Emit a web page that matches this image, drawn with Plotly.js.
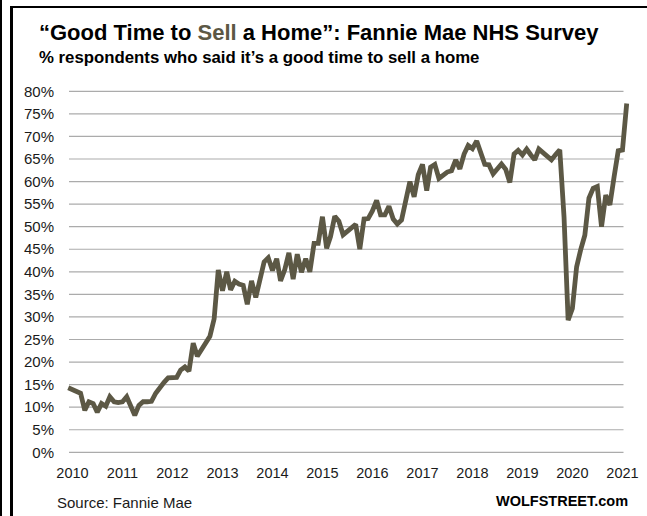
<!DOCTYPE html>
<html>
<head>
<meta charset="utf-8">
<script src="https://cdn.plot.ly/plotly-3.0.1.min.js"></script>
<style>
  html, body { margin:0; padding:0; background:#fff; overflow:hidden; }
  #wrap { position:relative; width:647px; height:516px; }
  #chart { position:absolute; left:0; top:0; width:647px; height:516px; }
  .bar { position:absolute; background:#000; }
</style>
</head>
<body>
<div id="wrap">
  <div id="chart"></div>
  <div class="bar" style="left:0;top:0;width:2px;height:516px;"></div>
  <div class="bar" style="left:10px;top:6px;width:3px;height:510px;"></div>
  <div class="bar" style="left:10px;top:6px;width:637px;height:2px;"></div>
</div>
<script>
// ---- data (monthly, starting Dec 2009) ----
const startYear = 2009;
const startMonth = 12;
const goodTimeToSell = [
  14.3, 13.8, 13.4, 13.1, 9.3, 11.2, 10.8, 8.9, 10.8, 10.2,
  12.3, 11.2, 11.0, 11.2, 12.3, 10.0, 8.2, 10.4, 11.2, 11.2,
  11.3, 13.1, 14.5, 15.5, 16.5, 16.5, 16.6, 18.2, 18.9, 18.0,
  24.2, 21.3, 22.8, 24.2, 25.7, 29.6, 40.4, 35.8, 40.0, 36.0,
  37.9, 37.3, 37.0, 32.8, 38.0, 34.3, 38.5, 42.2, 43.1, 40.3,
  42.9, 38.0, 40.5, 44.2, 38.4, 43.9, 39.9, 42.9, 40.0, 46.3,
  46.3, 52.2, 45.2, 47.8, 52.3, 51.2, 48.2, 49.0, 49.8, 50.5,
  45.0, 51.7, 51.8, 53.5, 55.8, 52.6, 52.6, 54.5, 51.7, 50.6,
  51.5, 56.5, 60.0, 56.6, 61.5, 63.8, 58.0, 63.2, 63.8, 60.7,
  61.5, 62.1, 62.4, 64.8, 62.8, 66.1, 68.0, 67.3, 69.0, 66.1,
  63.8, 63.7, 61.7, 62.8, 63.9, 62.7, 59.8, 66.1, 66.9, 65.9,
  67.2, 66.0, 64.8, 67.2, 66.5, 65.5, 64.8, 66.0, 67.0, 52.2,
  29.3, 31.9, 41.1, 44.8, 48.1, 56.3, 58.5, 58.9, 50.0, 57.0,
  54.8, 61.1, 66.8, 67.0, 77.3
];
const yearLabels = ['2010','2011','2012','2013','2014','2015','2016','2017','2018','2019','2020','2021'];
const yTicks = [0,5,10,15,20,25,30,35,40,45,50,55,60,65,70,75,80];

// month dates for the category axis
const months = goodTimeToSell.map((_, i) => {
  const m0 = (startMonth - 1) + i;
  const y = startYear + Math.floor(m0 / 12);
  const m = (m0 % 12) + 1;
  return y + '-' + String(m).padStart(2, '0') + '-01';
});
const yearTickVals = yearLabels.map(y => y + '-01-01');

// ---- layout helpers (pixel -> paper) ----
const L = 64, R = 630, T = 88, B = 456;
const px = x => (x - L) / (R - L);
const py = y => (B - y) / (B - T);

const lineColor = '#5c5845';
const FONT = 'Liberation Sans, Arial, Helvetica, sans-serif';

const trace = {
  x: months,
  y: goodTimeToSell,
  type: 'scatter',
  mode: 'lines',
  line: { color: lineColor, width: 4.8 },
  hoverinfo: 'skip'
};

const shapes = yTicks.map(v => ({
  type: 'line', xref: 'paper', yref: 'y',
  x0: px(69), x1: px(623.5), y0: v, y1: v,
  line: { color: '#ababab', width: 1.2 },
  layer: 'below'
}));

const layout = {
  width: 647, height: 516,
  margin: { l: L, r: 647 - R, t: T, b: 516 - B, pad: 0 },
  paper_bgcolor: '#ffffff',
  plot_bgcolor: '#ffffff',
  showlegend: false,
  font: { family: FONT, color: '#1a1a1a' },
  xaxis: {
    type: 'date',
    range: ['2009-10-31', '2021-02-25'],
    tickvals: yearTickVals,
    ticktext: yearLabels,
    showgrid: false, zeroline: false, showline: false, ticks: '',
    ticklabelstandoff: 6,
    tickfont: { family: FONT, size: 14.5, color: '#1a1a1a' }
  },
  yaxis: {
    range: [-0.82, 80.73],
    tickvals: yTicks,
    ticktext: yTicks.map(v => v + '%'),
    showgrid: false, zeroline: false, showline: false, ticks: '',
    ticklabelstandoff: 9,
    tickfont: { family: FONT, size: 15, color: '#1a1a1a' }
  },
  shapes: shapes,
  annotations: [
    {
      text: '<b>“Good Time to <span style="color:' + lineColor + '">Sell</span> a Home”: Fannie Mae NHS Survey</b>',
      xref: 'paper', yref: 'paper', x: px(37), y: py(32),
      xanchor: 'left', yanchor: 'middle', showarrow: false,
      font: { family: FONT, size: 22, color: '#000' }
    },
    {
      text: '<b>% respondents who said it’s a good time to sell a home</b>',
      xref: 'paper', yref: 'paper', x: px(37), y: py(58),
      xanchor: 'left', yanchor: 'middle', showarrow: false,
      font: { family: FONT, size: 16.8, color: '#000' }
    },
    {
      text: 'Source: Fannie Mae',
      xref: 'paper', yref: 'paper', x: px(55), y: py(502.5),
      xanchor: 'left', yanchor: 'middle', showarrow: false,
      font: { family: FONT, size: 15, color: '#1a1a1a' }
    },
    {
      text: '<b>WOLFSTREET.com</b>',
      xref: 'paper', yref: 'paper', x: px(629.5), y: py(501),
      xanchor: 'right', yanchor: 'middle', showarrow: false,
      font: { family: FONT, size: 14.5, color: '#000' }
    }
  ]
};

Plotly.newPlot('chart', [trace], layout, { displayModeBar: false, staticPlot: true });
</script>
</body>
</html>
